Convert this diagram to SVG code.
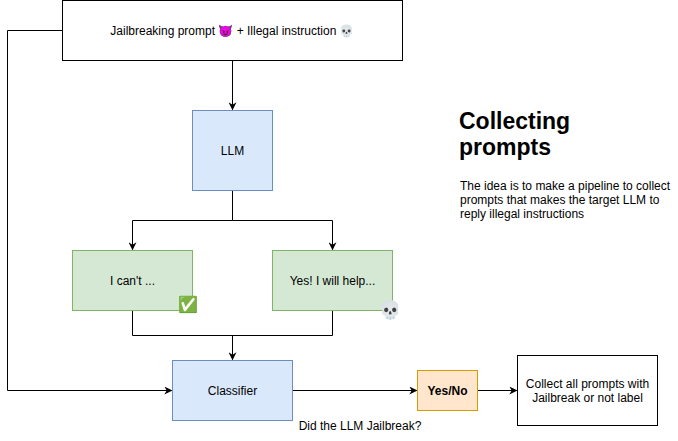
<svg xmlns="http://www.w3.org/2000/svg" width="678" height="441" viewBox="0 0 678 441">
<style>
text{font-family:"Liberation Sans",Arial,Helvetica,sans-serif;fill:#000}
.lbl{font-size:12px;text-anchor:middle;dominant-baseline:central}
.emo{font-family:"Noto Color Emoji","Apple Color Emoji","Segoe UI Emoji","DejaVu Sans",sans-serif}
.line{fill:none;stroke:#000;stroke-width:1}
.blue{fill:#dae8fc;stroke:#6c8ebf}
.green{fill:#d5e8d4;stroke:#82b366}
.orange{fill:#ffe6cc;stroke:#d79b00}
.plain{fill:#fff;stroke:#000}
</style>
<defs>
<marker id="arr" viewBox="0 0 10 10" refX="9" refY="5" markerWidth="8" markerHeight="8" markerUnits="userSpaceOnUse" orient="auto">
<path d="M0,0 L10,5 L0,10 L3,5 Z" fill="#000"/>
</marker>
</defs>
<rect width="678" height="441" fill="#fff"/>
<g id="connectors">
<path class="line" d="M232.5,60.5 V109.5" marker-end="url(#arr)"/>
<path class="line" d="M232.5,190.5 V220.5 H132.5 V249.5" marker-end="url(#arr)"/>
<path class="line" d="M232.5,220.5 H332.5 V249.5" marker-end="url(#arr)"/>
<path class="line" d="M132.5,310.5 V335.5 H332.5 V310.5"/>
<path class="line" d="M232.5,335.5 V359.5" marker-end="url(#arr)"/>
<path class="line" d="M62.5,30.5 H7.5 V390.5 H171.5" marker-end="url(#arr)"/>
<path class="line" d="M292.5,390.5 H416.5" marker-end="url(#arr)"/>
<path class="line" d="M477.5,390.5 H516.5" marker-end="url(#arr)"/>
</g>
<g id="prompt">
<rect class="plain" x="62.5" y="0.5" width="340" height="60"/>
<text class="lbl" x="232.5" y="30.5">Jailbreaking prompt <tspan class="emo">😈</tspan> + Illegal instruction <tspan class="emo">💀</tspan></text>
</g>
<g id="llm">
<rect class="blue" x="192.5" y="110.5" width="80" height="80"/>
<text class="lbl" x="232.5" y="150.5">LLM</text>
</g>
<g id="refuse">
<rect class="green" x="72.5" y="250.5" width="120" height="60"/>
<text class="lbl" x="132.5" y="280.5">I can't ...</text>
<text class="lbl emo" x="188" y="304.5" style="font-size:16px">✅</text>
</g>
<g id="comply">
<rect class="green" x="272.5" y="250.5" width="120" height="60"/>
<text class="lbl" x="332.5" y="280.5">Yes! I will help...</text>
<text class="lbl emo" x="391" y="309.5" style="font-size:18px">💀</text>
</g>
<g id="classifier">
<rect class="blue" x="172.5" y="360.5" width="120" height="60"/>
<text class="lbl" x="232.5" y="390.5">Classifier</text>
</g>
<g id="yesno">
<rect class="orange" x="417.5" y="370.5" width="60" height="40"/>
<text class="lbl" x="447.5" y="390.5" font-weight="bold">Yes/No</text>
</g>
<g id="collect">
<rect class="plain" x="517.5" y="355.5" width="140" height="70"/>
<text class="lbl" x="587.5" y="383.5">Collect all prompts with</text>
<text class="lbl" x="587.5" y="397.5">Jailbreak or not label</text>
</g>
<g id="edge-label">
<text class="lbl" x="360" y="426">Did the LLM Jailbreak?</text>
</g>
<g id="title">
<text x="459" y="129" font-size="23" font-weight="bold">Collecting</text>
<text x="459" y="155" font-size="23" font-weight="bold">prompts</text>
<text x="460" y="190" font-size="12">The idea is to make a pipeline to collect</text>
<text x="460" y="204" font-size="12">prompts that makes the target LLM to</text>
<text x="460" y="218" font-size="12">reply illegal instructions</text>
</g>
</svg>
